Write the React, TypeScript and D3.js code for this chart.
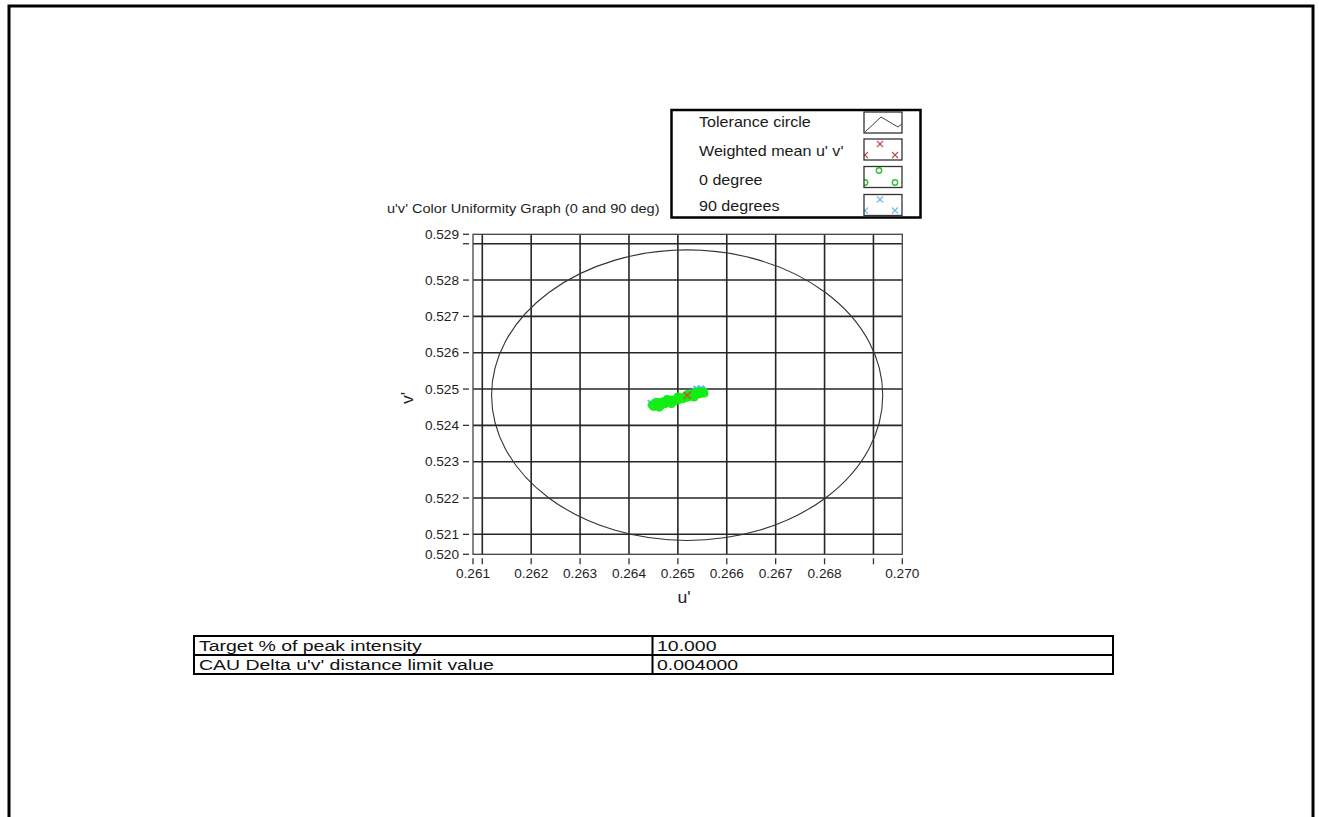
import React from "react";
import * as d3 from "d3";

// Chart texts
const chartTitle = "u'v' Color Uniformity Graph (0 and 90 deg)";
const xAxisTitle = "u'";
const yAxisTitle = "v'";

// Axis extents (u', v') and tick values
const uExtent = [0.26081, 0.26959];
const vExtent = [0.52045, 0.52926];
const uGrid = [0.261, 0.262, 0.263, 0.264, 0.265, 0.266, 0.267, 0.268, 0.269];
const vGrid = [0.521, 0.522, 0.523, 0.524, 0.525, 0.526, 0.527, 0.528, 0.529];
const uTickLabels = ["0.262", "0.263", "0.264", "0.265", "0.266", "0.267", "0.268"];
const vTickLabels = ["0.521", "0.522", "0.523", "0.524", "0.525", "0.526", "0.527", "0.528"];
const uEdgeLabels = ["0.261", "0.270"];
const vEdgeLabels = ["0.520", "0.529"];

// Weighted mean and tolerance radius (CAU delta u'v' limit)
const weightedMean = [0.26519, 0.52483];
const toleranceRadius = 0.004;

// 0 degree measurements (u', v')
const deg0U = [
  0.2645, 0.26452, 0.26455, 0.26458, 0.26461, 0.26463, 0.26466, 0.26468, 0.26471, 0.26474,
  0.26477, 0.2648, 0.26483, 0.26486, 0.26489, 0.26492, 0.26495, 0.26498, 0.26501, 0.26504,
  0.26507, 0.2651, 0.26513, 0.26516, 0.26519, 0.26522, 0.26525, 0.26528, 0.26531, 0.26534,
  0.26537, 0.2654, 0.26543, 0.26546, 0.26549, 0.26552, 0.26554, 0.26538, 0.2652, 0.265,
  0.26478, 0.26456, 0.26447, 0.26462, 0.26487, 0.26533,
];
const deg0V = [
  0.52451, 0.52456, 0.5246, 0.52453, 0.52458, 0.52463, 0.52455, 0.52461, 0.52466, 0.52459,
  0.52464, 0.52468, 0.52462, 0.52467, 0.52471, 0.52466, 0.5247, 0.52474, 0.52469, 0.52474,
  0.52477, 0.52472, 0.52477, 0.52481, 0.52476, 0.52481, 0.52485, 0.52479, 0.52484, 0.52488,
  0.52482, 0.52487, 0.52491, 0.52486, 0.5249, 0.52493, 0.52488, 0.52493, 0.52486, 0.52479,
  0.52472, 0.52465, 0.52456, 0.52449, 0.52459, 0.52477,
];

// 90 degree measurements (u', v')
const deg90U = [
  0.26535, 0.2654, 0.26545, 0.2655, 0.26553, 0.26548, 0.26542, 0.2653, 0.26556, 0.26448,
  0.26452, 0.26458, 0.2647, 0.26538, 0.26547, 0.26444,
];
const deg90V = [
  0.52495, 0.52498, 0.52496, 0.52499, 0.52495, 0.52492, 0.52493, 0.52491, 0.52491, 0.5246,
  0.52463, 0.52449, 0.52468, 0.52501, 0.52502, 0.52462,
];

// Legend entries
const legendLabels = ["Tolerance circle", "Weighted mean u' v'", "0 degree", "90 degrees"];

// Settings table
const tableLabels = ["Target % of peak intensity", "CAU Delta u'v' distance limit value"];
const tableValues = ["10.000", "0.004000"];

const GREEN = "#12ee12";
const BLUE = "#48b4ec";
const RED = "#d0502c";
const FONT = "'Liberation Sans', Arial, sans-serif";

type TProps = {
  x: number;
  y: number;
  size: number;
  sx?: number;
  anchor?: "start" | "middle" | "end";
  fill?: string;
  rotate?: number;
  children: React.ReactNode;
};

function T({ x, y, size, sx = 1.14, anchor = "start", fill = "#1e1e1e", rotate = 0, children }: TProps) {
  return (
    <text
      transform={`translate(${x},${y}) rotate(${rotate}) scale(${sx},1)`}
      textAnchor={anchor}
      fontFamily={FONT}
      fontSize={size}
      fill={fill}
    >
      {children}
    </text>
  );
}

function Cross({ cx, cy, r, color, w = 1.3 }: { cx: number; cy: number; r: number; color: string; w?: number }) {
  return (
    <g stroke={color} strokeWidth={w}>
      <line x1={cx - r} y1={cy - r} x2={cx + r} y2={cy + r} />
      <line x1={cx - r} y1={cy + r} x2={cx + r} y2={cy - r} />
    </g>
  );
}

export default function App() {
  const plot = { left: 473, right: 902.3, top: 234.3, bottom: 554.3 };
  const x = d3.scaleLinear().domain(uExtent).range([plot.left, plot.right]);
  const y = d3.scaleLinear().domain(vExtent).range([plot.bottom, plot.top]);

  const rx = x(weightedMean[0] + toleranceRadius) - x(weightedMean[0]);
  const ry = y(weightedMean[1]) - y(weightedMean[1] + toleranceRadius);

  const xTickPositions = [uExtent[0], ...uGrid, uExtent[1]];
  const yTickPositions = [vExtent[0], ...vGrid, vExtent[1]];

  // legend geometry
  const lg = { left: 671.5, top: 110, right: 920.5, bottom: 217.5 };
  const swatch = { left: 864, width: 38, height: 21 };
  const rowTops = [112, 139, 166.5, 194.5];
  const textBase = [127, 156, 185, 211];

  // table geometry
  const tb = { left: 194, mid: 652.5, right: 1113, top: 636, rowH: 19 };

  return (
    <svg
      width={1319}
      height={817}
      style={{ position: "absolute", left: 0, top: 0, background: "#fff" }}
    >
      <defs>
        {rowTops.map((t, i) => (
          <clipPath id={`sw${i}`} key={i}>
            <rect x={swatch.left} y={t} width={swatch.width} height={swatch.height} />
          </clipPath>
        ))}
        <clipPath id="plotclip">
          <rect x={plot.left} y={plot.top} width={plot.right - plot.left} height={plot.bottom - plot.top} />
        </clipPath>
      </defs>

      {/* page frame */}
      <rect x={9} y={6} width={1304} height={840} fill="none" stroke="#000" strokeWidth={3} />

      {/* title */}
      <T x={387} y={213} size={13} sx={1.12}>
        {chartTitle}
      </T>

      {/* grid */}
      <g stroke="#262626" strokeWidth={1.6}>
        {uGrid.map((u) => (
          <line key={u} x1={x(u)} x2={x(u)} y1={plot.top} y2={plot.bottom} />
        ))}
        {vGrid.map((v) => (
          <line key={v} x1={plot.left} x2={plot.right} y1={y(v)} y2={y(v)} />
        ))}
      </g>
      <rect
        x={plot.left}
        y={plot.top}
        width={plot.right - plot.left}
        height={plot.bottom - plot.top}
        fill="none"
        stroke="#444"
        strokeWidth={1.3}
      />

      {/* ticks */}
      <g stroke="#333" strokeWidth={1.3}>
        {xTickPositions.map((u, i) => (
          <line key={i} x1={x(u)} x2={x(u)} y1={plot.bottom + 4} y2={plot.bottom + 10} />
        ))}
        {yTickPositions.map((v, i) => (
          <line key={i} x1={plot.left - 10} x2={plot.left - 4} y1={y(v)} y2={y(v)} />
        ))}
      </g>

      {/* tick labels */}
      {uTickLabels.map((s) => (
        <T key={s} x={x(+s)} y={578} size={12.5} sx={1.09} anchor="middle">
          {s}
        </T>
      ))}
      {uEdgeLabels.map((s, i) => (
        <T key={s} x={x(uExtent[i])} y={578} size={12.5} sx={1.09} anchor="middle">
          {s}
        </T>
      ))}
      {vTickLabels.map((s) => (
        <T key={s} x={459} y={y(+s) + 4.5} size={12.5} sx={1.09} anchor="end">
          {s}
        </T>
      ))}
      {vEdgeLabels.map((s, i) => (
        <T key={s} x={459} y={y(vExtent[i]) + 4.5} size={12.5} sx={1.09} anchor="end">
          {s}
        </T>
      ))}

      {/* axis titles */}
      <T x={684} y={603} size={16} sx={1.1} anchor="middle">
        {xAxisTitle}
      </T>
      <T x={413} y={398} size={16} sx={1.1} anchor="middle" rotate={-90}>
        {yAxisTitle}
      </T>

      {/* tolerance circle */}
      <ellipse
        cx={x(weightedMean[0])}
        cy={y(weightedMean[1])}
        rx={rx}
        ry={ry}
        fill="none"
        stroke="#333"
        strokeWidth={1.1}
      />

      {/* measurements */}
      <g clipPath="url(#plotclip)">
        {deg90U.map((u, i) => (
          <Cross key={`b${i}`} cx={x(u)} cy={y(deg90V[i])} r={2.8} color={BLUE} w={1.5} />
        ))}
        {deg0U.map((u, i) => (
          <circle
            key={`g${i}`}
            cx={x(u)}
            cy={y(deg0V[i])}
            r={3.2}
            fill="none"
            stroke={GREEN}
            strokeWidth={1.8}
          />
        ))}
        <Cross cx={x(weightedMean[0])} cy={y(weightedMean[1])} r={3.5} color={RED} w={1.5} />
      </g>

      {/* legend */}
      <rect
        x={lg.left}
        y={lg.top}
        width={lg.right - lg.left}
        height={lg.bottom - lg.top}
        fill="#fff"
        stroke="#000"
        strokeWidth={2.5}
      />
      {legendLabels.map((s, i) => (
        <T key={s} x={699} y={textBase[i]} size={14} sx={1.15} fill="#1a1a1a">
          {s}
        </T>
      ))}
      {rowTops.map((t, i) => (
        <g key={i}>
          <g clipPath={`url(#sw${i})`}>
            {i === 0 && (
              <polyline
                points={`${swatch.left + 1},${t + 20} ${swatch.left + 17},${t + 5} ${swatch.left + 34},${t + 15} ${swatch.left + 39},${t + 11}`}
                fill="none"
                stroke="#444"
                strokeWidth={1}
              />
            )}
            {i === 1 && (
              <g>
                <Cross cx={swatch.left + 16} cy={t + 5} r={3} color="#c04848" w={1.1} />
                <Cross cx={swatch.left + 1} cy={t + 16} r={3} color="#c04848" w={1.1} />
                <Cross cx={swatch.left + 31} cy={t + 16} r={3} color="#c04848" w={1.1} />
              </g>
            )}
            {i === 2 && (
              <g fill="none" stroke="#30c030" strokeWidth={1.4}>
                <circle cx={swatch.left + 15} cy={t + 4} r={2.7} />
                <circle cx={swatch.left + 1} cy={t + 16} r={2.7} />
                <circle cx={swatch.left + 31} cy={t + 16} r={2.7} />
              </g>
            )}
            {i === 3 && (
              <g>
                <Cross cx={swatch.left + 16} cy={t + 5} r={3} color="#70b8e0" w={1.1} />
                <Cross cx={swatch.left + 1} cy={t + 16} r={3} color="#70b8e0" w={1.1} />
                <Cross cx={swatch.left + 31} cy={t + 16} r={3} color="#70b8e0" w={1.1} />
              </g>
            )}
          </g>
          <rect
            x={swatch.left}
            y={t}
            width={swatch.width}
            height={swatch.height}
            fill="none"
            stroke="#333"
            strokeWidth={1.3}
          />
        </g>
      ))}

      {/* settings table */}
      <g fill="none" stroke="#000" strokeWidth={2}>
        <rect x={tb.left} y={tb.top} width={tb.right - tb.left} height={tb.rowH * tableLabels.length} />
        <line x1={tb.left} x2={tb.right} y1={tb.top + tb.rowH} y2={tb.top + tb.rowH} />
        <line x1={tb.mid} x2={tb.mid} y1={tb.top} y2={tb.top + tb.rowH * tableLabels.length} />
      </g>
      {tableLabels.map((s, i) => (
        <T key={s} x={tb.left + 5} y={tb.top + 15 + i * tb.rowH} size={14} sx={1.39} fill="#111">
          {s}
        </T>
      ))}
      {tableValues.map((s, i) => (
        <T key={s} x={tb.mid + 4.5} y={tb.top + 15 + i * tb.rowH} size={14} sx={1.39} fill="#111">
          {s}
        </T>
      ))}
    </svg>
  );
}
